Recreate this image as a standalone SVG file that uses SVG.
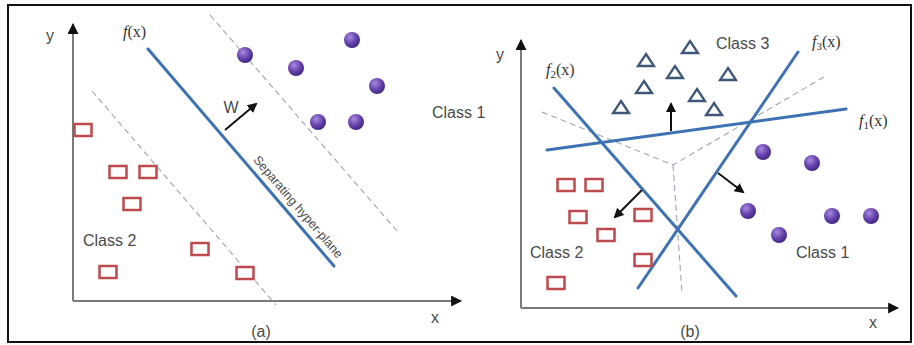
<svg xmlns="http://www.w3.org/2000/svg" width="914" height="345" viewBox="0 0 914 345">
<style>
.ax{stroke:#7a7a7a;stroke-width:2;fill:none}
.sep{stroke:#3f72b3;stroke-width:3;fill:none;stroke-linecap:round}
.dash{stroke:#9aa6b4;stroke-width:1.1;stroke-dasharray:6 4;fill:none}
.arr{stroke:#111;stroke-width:2;fill:none}
.sq{fill:#fff;stroke:#bd4a4c;stroke-width:2.5}
.tri{fill:#fff;stroke:#3c5778;stroke-width:2.3;stroke-linejoin:miter}
.lbl{font-family:"Liberation Sans",Arial,sans-serif;font-size:16px;fill:#4a4a4a}
.fx{font-family:"Liberation Serif","Times New Roman",serif;font-size:16px;fill:#333}
</style>
<defs>
<radialGradient id="pg" cx="0.38" cy="0.32" r="0.7">
<stop offset="0" stop-color="#a58ddc"/>
<stop offset="0.55" stop-color="#6a45b0"/>
<stop offset="1" stop-color="#3f2580"/>
</radialGradient>
<marker id="ah" viewBox="0 0 10 10" refX="8" refY="5" markerWidth="5" markerHeight="5" orient="auto-start-reverse">
<path d="M0,0 L10,5 L0,10 z" fill="#111"/>
</marker>
<marker id="axh" viewBox="0 0 10 10" refX="9" refY="5" markerWidth="5.5" markerHeight="5.5" orient="auto">
<path d="M0,0 L10,5 L0,10 z" fill="#111"/>
</marker>
<circle id="dot" r="8" fill="url(#pg)"/>
<rect id="box" x="-8.5" y="-6" width="17" height="12" class="sq"/>
<path id="tr" d="M0,-6 L8,6 L-8,6 Z" class="tri"/>
</defs>
<rect x="8" y="5" width="903" height="337" fill="#fff" stroke="#111" stroke-width="2"/>

<g id="panel-a">
<g id="axes-a">
<line class="ax" x1="73" y1="301" x2="73" y2="24" marker-end="url(#axh)"/>
<line class="ax" x1="73" y1="301" x2="461" y2="301" marker-end="url(#axh)"/>
<text class="lbl" x="50" y="41" text-anchor="middle">y</text>
<text class="lbl" x="435" y="323" text-anchor="middle">x</text>
<text class="lbl" x="261" y="337" text-anchor="middle">(a)</text>
</g>
<g id="connectors-a">
<line class="dash" x1="210" y1="15" x2="397" y2="231"/>
<line class="dash" x1="92" y1="91" x2="276" y2="305"/>
<line class="sep" x1="148" y1="49" x2="334" y2="266"/>
<line class="arr" x1="225" y1="130" x2="256" y2="104" marker-end="url(#ah)"/>
</g>
<g id="label-fx"><text class="fx" x="123" y="37"><tspan font-style="italic">f</tspan>(x)</text></g>
<g id="label-w"><text class="lbl" x="231" y="113" text-anchor="middle">W</text></g>
<g id="label-sep"><text class="lbl" style="font-size:12.5px" transform="translate(298,207) rotate(49.4)" x="0" y="4" text-anchor="middle">Separating hyper-plane</text></g>
<g id="class1-a">
<use href="#dot" x="245" y="55"/><use href="#dot" x="296" y="68"/><use href="#dot" x="352" y="40"/>
<use href="#dot" x="377" y="86"/><use href="#dot" x="318" y="122"/><use href="#dot" x="356" y="122"/>
<text class="lbl" x="432" y="118">Class 1</text>
</g>
<g id="class2-a">
<use href="#box" x="83" y="130"/><use href="#box" x="118" y="172"/><use href="#box" x="148" y="172"/>
<use href="#box" x="132" y="204"/><use href="#box" x="200" y="249"/><use href="#box" x="108" y="272"/>
<use href="#box" x="245" y="273"/>
<text class="lbl" x="83" y="246">Class 2</text>
</g>
</g>

<g id="panel-b">
<g id="axes-b">
<line class="ax" x1="521" y1="308" x2="521" y2="40" marker-end="url(#axh)"/>
<line class="ax" x1="521" y1="308" x2="898" y2="308" marker-end="url(#axh)"/>
<text class="lbl" x="500" y="60" text-anchor="middle">y</text>
<text class="lbl" x="873" y="328" text-anchor="middle">x</text>
<text class="lbl" x="690" y="337" text-anchor="middle">(b)</text>
</g>
<g id="connectors-b">
<polyline class="dash" points="542,112 673,165 824,77"/>
<line class="dash" x1="673" y1="165" x2="682" y2="293"/>
<line class="sep" x1="547" y1="150" x2="846" y2="109"/>
<line class="sep" x1="554" y1="88" x2="736" y2="296"/>
<line class="sep" x1="638" y1="288" x2="798" y2="52"/>
<line class="arr" x1="671" y1="131" x2="671" y2="104" marker-end="url(#ah)"/>
<line class="arr" x1="718" y1="173" x2="743" y2="192" marker-end="url(#ah)"/>
<line class="arr" x1="642" y1="190" x2="615" y2="217" marker-end="url(#ah)"/>
</g>
<g id="labels-f">
<text class="fx" x="546" y="75"><tspan font-style="italic">f</tspan><tspan font-size="11" dy="3">2</tspan><tspan dy="-3">(x)</tspan></text>
<text class="fx" x="812" y="47"><tspan font-style="italic">f</tspan><tspan font-size="11" dy="3">3</tspan><tspan dy="-3">(x)</tspan></text>
<text class="fx" x="859" y="126"><tspan font-style="italic">f</tspan><tspan font-size="11" dy="3">1</tspan><tspan dy="-3">(x)</tspan></text>
</g>
<g id="class3-b">
<use href="#tr" x="690" y="47"/><use href="#tr" x="646" y="60"/><use href="#tr" x="675" y="72"/>
<use href="#tr" x="728" y="74"/><use href="#tr" x="644" y="87"/><use href="#tr" x="697" y="95"/>
<use href="#tr" x="621" y="107"/><use href="#tr" x="714" y="109"/>
<text class="lbl" x="716" y="49">Class 3</text>
</g>
<g id="class1-b">
<use href="#dot" x="763" y="152"/><use href="#dot" x="812" y="163"/><use href="#dot" x="748" y="211"/>
<use href="#dot" x="779" y="235"/><use href="#dot" x="832" y="216"/><use href="#dot" x="871" y="216"/>
<text class="lbl" x="796" y="258">Class 1</text>
</g>
<g id="class2-b">
<use href="#box" x="566" y="185"/><use href="#box" x="594" y="185"/><use href="#box" x="578" y="217"/>
<use href="#box" x="643" y="215"/><use href="#box" x="606" y="235"/><use href="#box" x="643" y="260"/>
<use href="#box" x="556" y="283"/>
<text class="lbl" x="530" y="258">Class 2</text>
</g>
</g>
</svg>
